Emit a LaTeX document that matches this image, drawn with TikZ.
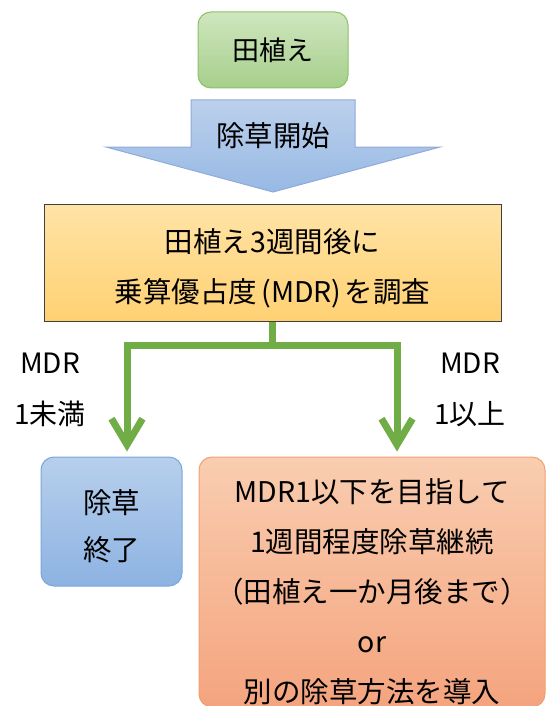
\documentclass[tikz,border=0pt]{standalone}
\usepackage{fontspec}
\setmainfont{Noto Sans CJK JP}
\usetikzlibrary{arrows.meta}
\definecolor{gbord}{HTML}{8CC168}
\definecolor{gtop}{HTML}{CFE6BF}
\definecolor{gbot}{HTML}{A6CF8B}
\definecolor{abord}{HTML}{8FAADC}
\definecolor{atop}{HTML}{BCD0EC}
\definecolor{abot}{HTML}{97B9E4}
\definecolor{otop}{HTML}{FFE3A6}
\definecolor{obot}{HTML}{FFD173}
\definecolor{obord}{HTML}{404040}
\definecolor{conn}{HTML}{70AD47}
\definecolor{btop}{HTML}{B7CFEC}
\definecolor{bbot}{HTML}{8DB3E2}
\definecolor{bbord}{HTML}{7AA6DC}
\definecolor{stop}{HTML}{F9CDB0}
\definecolor{sbot}{HTML}{F4A47E}
\definecolor{sbord}{HTML}{F0A070}
\tikzset{
  txt/.style={font=\fontsize{28.5pt}{50pt}\selectfont, align=center, text=black},
  rbox/.style={rounded corners=13pt, line width=1pt, inner sep=0pt},
  greenbox/.style={rbox, draw=gbord, top color=gtop, bottom color=gbot},
  bluebox/.style={rbox, draw=bbord, top color=btop, bottom color=bbot},
  salmonbox/.style={rbox, draw=sbord, top color=stop, bottom color=sbot},
  orangebox/.style={draw=obord, line width=1pt, top color=otop, bottom color=obot, inner sep=0pt},
  connline/.style={draw=conn, line width=7pt},
  connarrow/.style={connline, -{Straight Barb[length=26pt,width=31pt]}, shorten >=5pt},
  lbl/.style={font=\fontsize{28pt}{51pt}\selectfont, align=center, text=black}
}
\begin{document}
\begin{tikzpicture}[x=1pt,y=-1pt]
\useasboundingbox (0,0) rectangle (546,706);
% green box
\node[greenbox, minimum width=150pt, minimum height=76pt] (ue) at (273,50) {};
\node[txt, font=\fontsize{27pt}{50pt}\selectfont] (uet) at (273,50) {田植え};
% block arrow
\draw[draw=abord, line width=1pt, top color=atop, bottom color=abot]
  (191,100) -- (355,100) -- (355,147) -- (440,147) -- (273,192) -- (106,147) -- (191,147) -- cycle;
\node[txt] (start) at (273,136) {除草開始};
% orange box
\node[orangebox, minimum width=457pt, minimum height=117pt] (mdr) at (272.5,262.5) {};
\node[txt] (mdrt) at (272.5,268) {田植え3週間後に\\乗算優占度\hspace{4pt}(MDR)\hspace{3pt}を調査};
% blue box
\node[bluebox, minimum width=141pt, minimum height=129pt] (end) at (111.5,521.5) {};
\node[txt, font=\fontsize{28.5pt}{47pt}\selectfont] (endt) at (111.5,526) {除草\\終了};
% salmon box
\node[salmonbox, minimum width=346pt, minimum height=250pt] (cont) at (372,582) {};
\node[txt] (contt) at (372,592) {MDR1以下を目指して\\1週間程度除草継続\\（田植え一か月後まで）\\or\\別の除草方法を導入};
% connectors
\coordinate (jl) at (127,345.5);
\coordinate (jr) at (397,345.5);
\coordinate (jm) at (272.5,345.5);
\draw[connline] (mdr.south) -- (jm);
\draw[connline] ([xshift=-3.5pt]jl) -- ([xshift=3.5pt]jr);
\draw[connarrow] (jl) -- (jl |- end.north);
\draw[connarrow] (jr) -- (jr |- cont.north);
% labels
\node[lbl] (ll) at (50,390) {MDR\\1未満};
\node[lbl] (rl) at (470,390) {MDR\\1以上};
\end{tikzpicture}
\end{document}
